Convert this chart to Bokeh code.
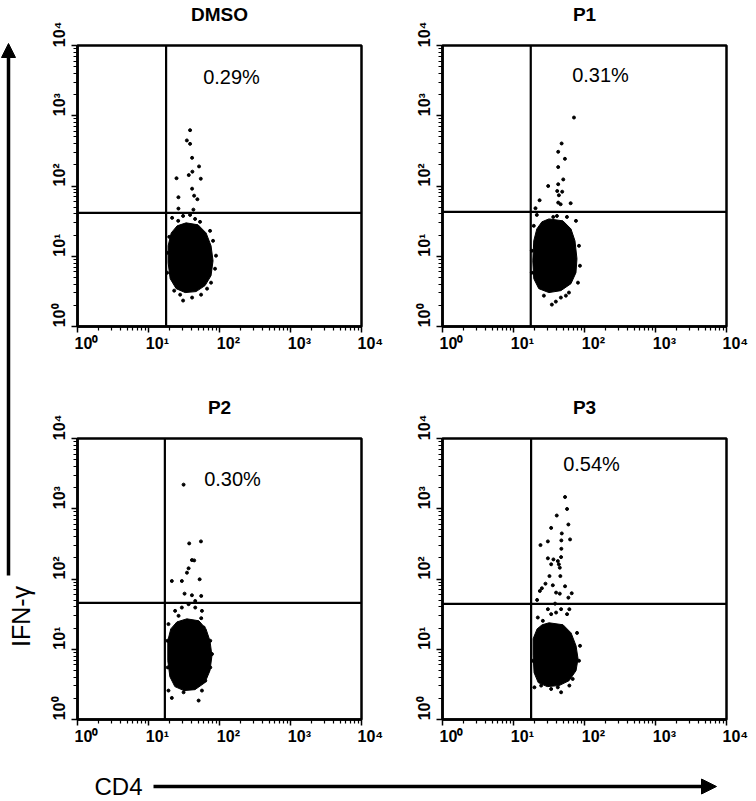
import math
from bokeh.plotting import figure
from bokeh.layouts import row, column
from bokeh.models import Span, Label, Arrow, NormalHead, FixedTicker, Range1d, LogAxis
from bokeh.embed import file_html
from bokeh.resources import INLINE

# ---------------- data ----------------
panel_names = ["DMSO", "P1", "P2", "P3"]
percent_labels = ["0.29%", "0.31%", "0.30%", "0.54%"]
gate_x = [17.7, 17.5, 17.0, 17.7]      # CD4 gate
gate_y = [41.4, 42.8, 45.6, 44.2]      # IFN-gamma gate

tick_values = [1, 10, 100, 1000, 10000]
tick_labels = ["10⁰", "10¹", "10²", "10³", "10⁴"]

# dense core of each population (outline of the solid dot cloud)
dmso_core_x = [33.9, 49.9, 64.7, 76.0, 81.1, 76.0, 62.6, 46.8, 32.8, 24.5, 20.2, 18.9, 18.9, 20.9, 25.3]
dmso_core_y = [29.9, 28.0, 21.5, 14.1, 8.63, 5.29, 3.82, 3.14, 3.04, 3.46, 4.80, 8.09, 14.1, 21.5, 27.1]
p1_core_x = [31.5, 49.7, 64.5, 73.4, 78.3, 75.8, 64.5, 46.5, 31.5, 22.7, 19.3, 18.7, 19.3, 21.3, 25.1]
p1_core_y = [34.0, 31.9, 24.5, 16.6, 9.22, 5.83, 4.07, 3.24, 3.04, 3.46, 4.80, 8.63, 16.6, 24.5, 30.9]
p2_core_x = [34.7, 51.3, 64.5, 73.4, 78.3, 73.4, 62.4, 45.1, 31.5, 23.5, 20.0, 18.7, 18.7, 20.6, 25.1]
p2_core_y = [27.1, 25.4, 19.5, 13.2, 8.09, 4.96, 3.35, 2.66, 2.58, 2.94, 4.07, 6.87, 13.2, 19.5, 24.5]
p3_core_x = [31.7, 49.9, 64.7, 76.0, 81.1, 76.0, 60.6, 43.9, 29.8, 22.3, 19.5, 18.9, 18.9, 21.5, 25.3]
p3_core_y = [23.8, 22.3, 17.1, 11.2, 7.33, 4.96, 3.57, 3.04, 2.94, 3.35, 4.64, 8.09, 14.1, 19.5, 22.3]

# individual events (outliers and cloud-edge dots)
dmso_x = [38.5, 34.7, 38.5, 41.1, 51.5, 41.5, 36.9, 24.8, 54.5, 41.1, 26.4, 43.9, 48.8, 26.4, 42.9,
          21.5, 30.7, 38.5, 26.2, 45.3, 53.2, 30.7, 41.1, 27.9, 55.0, 23.0, 66.8, 76.0, 86.5, 89.3,
          81.1, 73.6, 18.3, 18.3, 19.6]
dmso_y = [623, 445, 398, 252, 190, 160, 143, 129, 127, 91.6, 69.2, 72.8, 64.8, 47.7, 46.1,
          35.2, 37.5, 38.8, 31.9, 34.0, 30.9, 2.34, 2.58, 2.84, 2.84, 3.24, 3.46, 4.21, 6.65, 10.2,
          16.6, 23.0, 11.2, 5.83, 18.9]
p1_x = [71.1, 47.6, 42.6, 53.0, 42.6, 50.2, 30.8, 42.6, 41.3, 48.5, 43.6, 23.3, 42.6, 46.1, 63.8, 20.4,
        21.3, 36.3, 40.9, 56.6, 75.8, 83.6, 86.3, 80.9, 60.4, 34.7, 39.5, 46.5, 26.8, 54.7, 18.1, 18.1, 19.3]
p1_y = [943, 403, 307, 244, 186, 124, 100, 106, 84.9, 83.0, 73.8, 62.7, 58.0, 55.0, 56.9, 48.3,
        38.8, 36.3, 37.5, 36.3, 31.9, 14.1, 7.33, 4.21, 3.04, 2.05, 2.26, 2.58, 2.75, 2.75, 12.0, 5.83, 27.1]
p2_x = [31.2, 37.4, 54.8, 40.9, 44.0, 36.7, 34.8, 21.3, 29.5, 52.5, 32.2, 40.9, 55.3, 45.5,
        23.7, 29.5, 36.7, 45.5, 56.6, 26.5, 55.3, 59.8, 74.1, 78.3, 74.1, 63.0, 56.6, 19.1, 21.3,
        50.8, 31.2, 18.7, 18.5, 19.1]
p2_y = [2204, 321, 343, 186, 184, 142, 123, 93.7, 93.7, 99, 61.9, 58.7, 57.4, 48.7,
        35.2, 39.2, 43.8, 39.2, 35.2, 29.9, 27.7, 20.4, 13.2, 8.55, 5.52, 3.57, 2.58, 2.58, 2.03,
        1.86, 2.44, 5.52, 13.2, 22.8]
p3_x = [53.2, 56.8, 40.7, 59.3, 33.9, 47.9, 62.6, 47.2, 30.5, 24.0, 47.2, 46.8, 30.5, 36.5, 42.1, 43.5,
        33.9, 44.9, 32.1, 45.7, 28.2, 35.8, 53.2, 25.1, 23.5, 39.8, 44.9, 66.1, 59.3, 21.5, 38.5,
        30.5, 39.8, 46.8, 61.2, 56.8, 22.0, 25.9, 33.9, 19.7, 24.5, 46.8, 33.9, 68.2, 42.1, 61.2,
        83.7, 86.5, 78.5, 18.3]
p3_y = [1470, 993, 801, 597, 534, 445, 366, 354, 343, 304, 269, 205, 197, 190, 180, 162,
        162, 145, 110, 110, 85.8, 81.4, 78.8, 73.8, 67.6, 64.0, 61.9, 62.7, 54.3, 50.4, 44.6,
        37.2, 33.3, 37.2, 37.2, 31.6, 28.3, 25.4, 31.6, 2.87, 3.04, 2.44, 2.72, 3.78, 2.87, 3.04,
        6.87, 11.2, 17.1, 6.87]

core_xs = [dmso_core_x, p1_core_x, p2_core_x, p3_core_x]
core_ys = [dmso_core_y, p1_core_y, p2_core_y, p3_core_y]
event_xs = [dmso_x, p1_x, p2_x, p3_x]
event_ys = [dmso_y, p1_y, p2_y, p3_y]

# ---------------- layout / style ----------------
FONT = "Liberation Sans"
NB = "\u00a0"

# (width, height, border_left, border_right, border_top, border_bottom)
geoms = [
    (364, 393, 39, 41, 44, 67),
    (352, 393, 40, 28, 44, 67),
    (364, 356, 39, 41, 44, 30),
    (352, 356, 40, 28, 44, 30),
]
title_standoff = [21, 21, 21, 21]
pct_pos = [(154, 250), (158, 252), (155, 241), (149, 256)]

minor = [m * 10 ** k for k in range(4) for m in range(2, 10)]


def make_panel(i):
    w, h, bl, br, bt, bb = geoms[i]
    p = figure(width=w, height=h, x_axis_type="log", y_axis_type="log",
               x_range=Range1d(1, 10000), y_range=Range1d(1, 10000),
               output_backend="svg", toolbar_location=None,
               min_border_left=bl, min_border_right=br,
               min_border_top=bt, min_border_bottom=bb)
    p.xgrid.visible = False
    p.ygrid.visible = False
    p.outline_line_color = "black"
    p.outline_line_width = 2.5
    p.outline_line_alpha = 1.0
    p.background_fill_color = "white"
    p.border_fill_color = "white"

    xa = p.below[0]
    ya = p.left[0]
    for ax in (xa, ya):
        ax.ticker = FixedTicker(ticks=tick_values, minor_ticks=minor)
        ax.axis_line_width = 2.5
        ax.axis_line_color = "black"
        ax.major_tick_in = 0
        ax.major_tick_out = 6
        ax.minor_tick_in = 0
        ax.minor_tick_out = 4
        ax.major_tick_line_width = 1.5
        ax.minor_tick_line_width = 1.2
        ax.major_label_text_font = FONT
        ax.major_label_text_font_style = "bold"
        ax.major_label_text_font_size = "16px"
        ax.major_label_text_color = "black"
    xa.major_label_overrides = {v: NB * 4 + t for v, t in zip(tick_values, tick_labels)}
    xa.major_label_standoff = 2
    ya.major_label_overrides = {v: NB * 5 + t for v, t in zip(tick_values, tick_labels)}
    ya.major_label_orientation = "vertical"
    ya.major_label_standoff = 4

    # panel title as the label of a bare axis above the frame
    top = LogAxis(ticker=FixedTicker(ticks=[]), axis_line_color=None,
                  major_tick_out=0, major_tick_in=0, minor_tick_out=0, minor_tick_in=0,
                  major_label_standoff=0, axis_label=panel_names[i],
                  axis_label_standoff=title_standoff[i], axis_label_text_font=FONT,
                  axis_label_text_font_style="bold", axis_label_text_font_size="19px",
                  axis_label_text_color="black")
    p.add_layout(top, "above")

    p.patch(core_xs[i], core_ys[i], fill_color="black", line_color="black", line_width=1)
    p.scatter(event_xs[i], event_ys[i], size=3, color="black", marker="circle")

    p.add_layout(Span(location=gate_x[i], dimension="height", line_color="black", line_width=2.2))
    p.add_layout(Span(location=gate_y[i], dimension="width", line_color="black", line_width=2.2))

    px, py = pct_pos[i]
    p.add_layout(Label(x=px, y=py, x_units="screen", y_units="screen", text=percent_labels[i],
                       text_font=FONT, text_font_size="20px",
                       text_align="center", text_baseline="middle", text_color="black"))
    return p


panels = [make_panel(i) for i in range(4)]

# left strip: IFN-gamma arrow
TOTAL_H = 800
left = figure(width=38, height=TOTAL_H, x_range=Range1d(0, 38), y_range=Range1d(0, TOTAL_H),
              x_axis_location=None, y_axis_location=None, min_border=0,
              outline_line_color=None, toolbar_location=None, output_backend="svg")
left.grid.visible = False
left.add_layout(Arrow(x_start=8, y_start=225, x_end=8, y_end=757, line_width=3.5, line_color="black",
                      end=NormalHead(size=14, fill_color="black", line_color="black")))
left.add_layout(Label(x=20, y=184, text="IFN-γ", angle=math.pi / 2, text_font=FONT,
                      text_font_size="25px", text_align="center", text_baseline="middle",
                      text_color="black"))

# bottom strip: CD4 arrow
bottom = figure(width=716, height=51, x_range=Range1d(0, 716), y_range=Range1d(0, 51),
                x_axis_location=None, y_axis_location=None, min_border=0,
                outline_line_color=None, toolbar_location=None, output_backend="svg")
bottom.grid.visible = False
bottom.add_layout(Arrow(x_start=115, y_start=14, x_end=678, y_end=14, line_width=3.5, line_color="black",
                        end=NormalHead(size=15, fill_color="black", line_color="black")))
bottom.add_layout(Label(x=80, y=14, text="CD4", text_font=FONT, text_font_size="24px",
                        text_align="center", text_baseline="middle", text_color="black"))

layout = row(left, column(row(panels[0], panels[1]), row(panels[2], panels[3]), bottom))

open("out.html", "w").write(file_html(layout, INLINE))
